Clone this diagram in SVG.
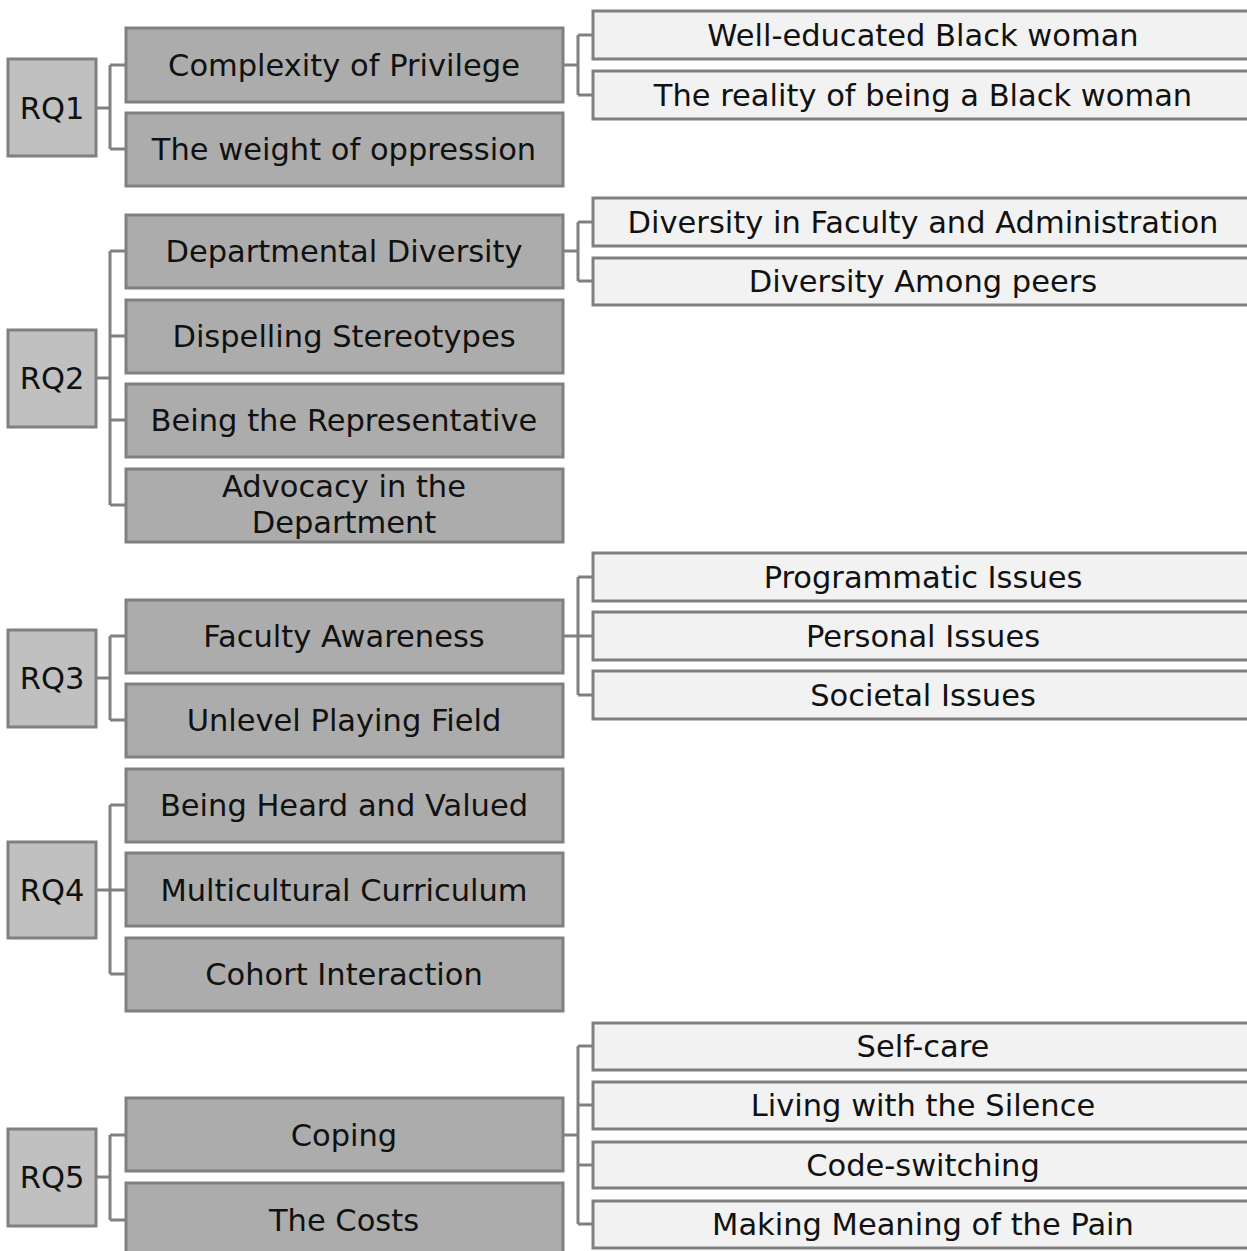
<svg xmlns="http://www.w3.org/2000/svg" width="1247" height="1251" viewBox="0 0 1247 1251">
<style>
.rq{fill:#c0c0c0;stroke:#808080;stroke-width:3}
.mid{fill:#acacac;stroke:#808080;stroke-width:3}
.leaf{fill:#f2f2f2;stroke:#808080;stroke-width:3}
text{font-family:"DejaVu Sans","Liberation Sans",sans-serif;font-size:30.5px;fill:#111;text-anchor:middle}
.conn path{fill:none;stroke:#808080;stroke-width:3}
</style>
<rect width="1247" height="1251" fill="#fff"/>
<g class="conn">
<path d="M96 108H110M110 65V149M110 65H126M110 149H126"/>
<path d="M563 65H578M578 35V95M578 35H593M578 95H593"/>
<path d="M96 378H110M110 251V505M110 251H126M110 336H126M110 420H126M110 505H126"/>
<path d="M563 251H578M578 222V281M578 222H593M578 281H593"/>
<path d="M96 678H110M110 636V720M110 636H126M110 720H126"/>
<path d="M563 636H578M578 577V695M578 577H593M578 636H593M578 695H593"/>
<path d="M96 890H110M110 805V974M110 805H126M110 890H126M110 974H126"/>
<path d="M96 1177H110M110 1135V1220M110 1135H126M110 1220H126"/>
<path d="M563 1135H578M578 1046V1224M578 1046H593M578 1105H593M578 1165H593M578 1224H593"/>
</g>
<g id="rq1"><rect class="rq" x="8" y="59" width="88" height="97"/><text x="52" y="119">RQ1</text></g>
<g id="n-complexity"><rect class="mid" x="126" y="28" width="437" height="74"/><text x="344" y="76">Complexity of Privilege</text></g>
<g id="n-weight"><rect class="mid" x="126" y="113" width="437" height="73"/><text x="344" y="160">The weight of oppression</text></g>
<g id="l-welleducated"><rect class="leaf" x="593" y="11" width="662" height="48"/><text x="923" y="46">Well-educated Black woman</text></g>
<g id="l-reality"><rect class="leaf" x="593" y="71" width="662" height="48"/><text x="923" y="106">The reality of being a Black woman</text></g>

<g id="rq2"><rect class="rq" x="8" y="330" width="88" height="97"/><text x="52" y="389">RQ2</text></g>
<g id="n-deptdiv"><rect class="mid" x="126" y="215" width="437" height="73"/><text x="344" y="262">Departmental Diversity</text></g>
<g id="n-dispelling"><rect class="mid" x="126" y="300" width="437" height="73"/><text x="344" y="347">Dispelling Stereotypes</text></g>
<g id="n-representative"><rect class="mid" x="126" y="384" width="437" height="73"/><text x="344" y="431">Being the Representative</text></g>
<g id="n-advocacy"><rect class="mid" x="126" y="469" width="437" height="73"/><text x="344" y="497">Advocacy in the</text><text x="344" y="533">Department</text></g>
<g id="l-facadmin"><rect class="leaf" x="593" y="198" width="662" height="48"/><text x="923" y="233">Diversity in Faculty and Administration</text></g>
<g id="l-peers"><rect class="leaf" x="593" y="258" width="662" height="47"/><text x="923" y="292">Diversity Among peers</text></g>

<g id="rq3"><rect class="rq" x="8" y="630" width="88" height="97"/><text x="52" y="689">RQ3</text></g>
<g id="n-awareness"><rect class="mid" x="126" y="600" width="437" height="73"/><text x="344" y="647">Faculty Awareness</text></g>
<g id="n-unlevel"><rect class="mid" x="126" y="684" width="437" height="73"/><text x="344" y="731">Unlevel Playing Field</text></g>
<g id="l-programmatic"><rect class="leaf" x="593" y="553" width="662" height="48"/><text x="923" y="588">Programmatic Issues</text></g>
<g id="l-personal"><rect class="leaf" x="593" y="612" width="662" height="48"/><text x="923" y="647">Personal Issues</text></g>
<g id="l-societal"><rect class="leaf" x="593" y="671" width="662" height="48"/><text x="923" y="706">Societal Issues</text></g>

<g id="rq4"><rect class="rq" x="8" y="842" width="88" height="96"/><text x="52" y="901">RQ4</text></g>
<g id="n-heard"><rect class="mid" x="126" y="769" width="437" height="73"/><text x="344" y="816">Being Heard and Valued</text></g>
<g id="n-multicultural"><rect class="mid" x="126" y="853" width="437" height="73"/><text x="344" y="901">Multicultural Curriculum</text></g>
<g id="n-cohort"><rect class="mid" x="126" y="938" width="437" height="73"/><text x="344" y="985">Cohort Interaction</text></g>

<g id="rq5"><rect class="rq" x="8" y="1129" width="88" height="97"/><text x="52" y="1188">RQ5</text></g>
<g id="n-coping"><rect class="mid" x="126" y="1098" width="437" height="73"/><text x="344" y="1146">Coping</text></g>
<g id="n-costs"><rect class="mid" x="126" y="1183" width="437" height="75"/><text x="344" y="1231">The Costs</text></g>
<g id="l-selfcare"><rect class="leaf" x="593" y="1023" width="662" height="47"/><text x="923" y="1057">Self-care</text></g>
<g id="l-silence"><rect class="leaf" x="593" y="1082" width="662" height="47"/><text x="923" y="1116">Living with the Silence</text></g>
<g id="l-codeswitch"><rect class="leaf" x="593" y="1142" width="662" height="46"/><text x="923" y="1176">Code-switching</text></g>
<g id="l-meaning"><rect class="leaf" x="593" y="1201" width="662" height="47"/><text x="923" y="1235">Making Meaning of the Pain</text></g>
</svg>
